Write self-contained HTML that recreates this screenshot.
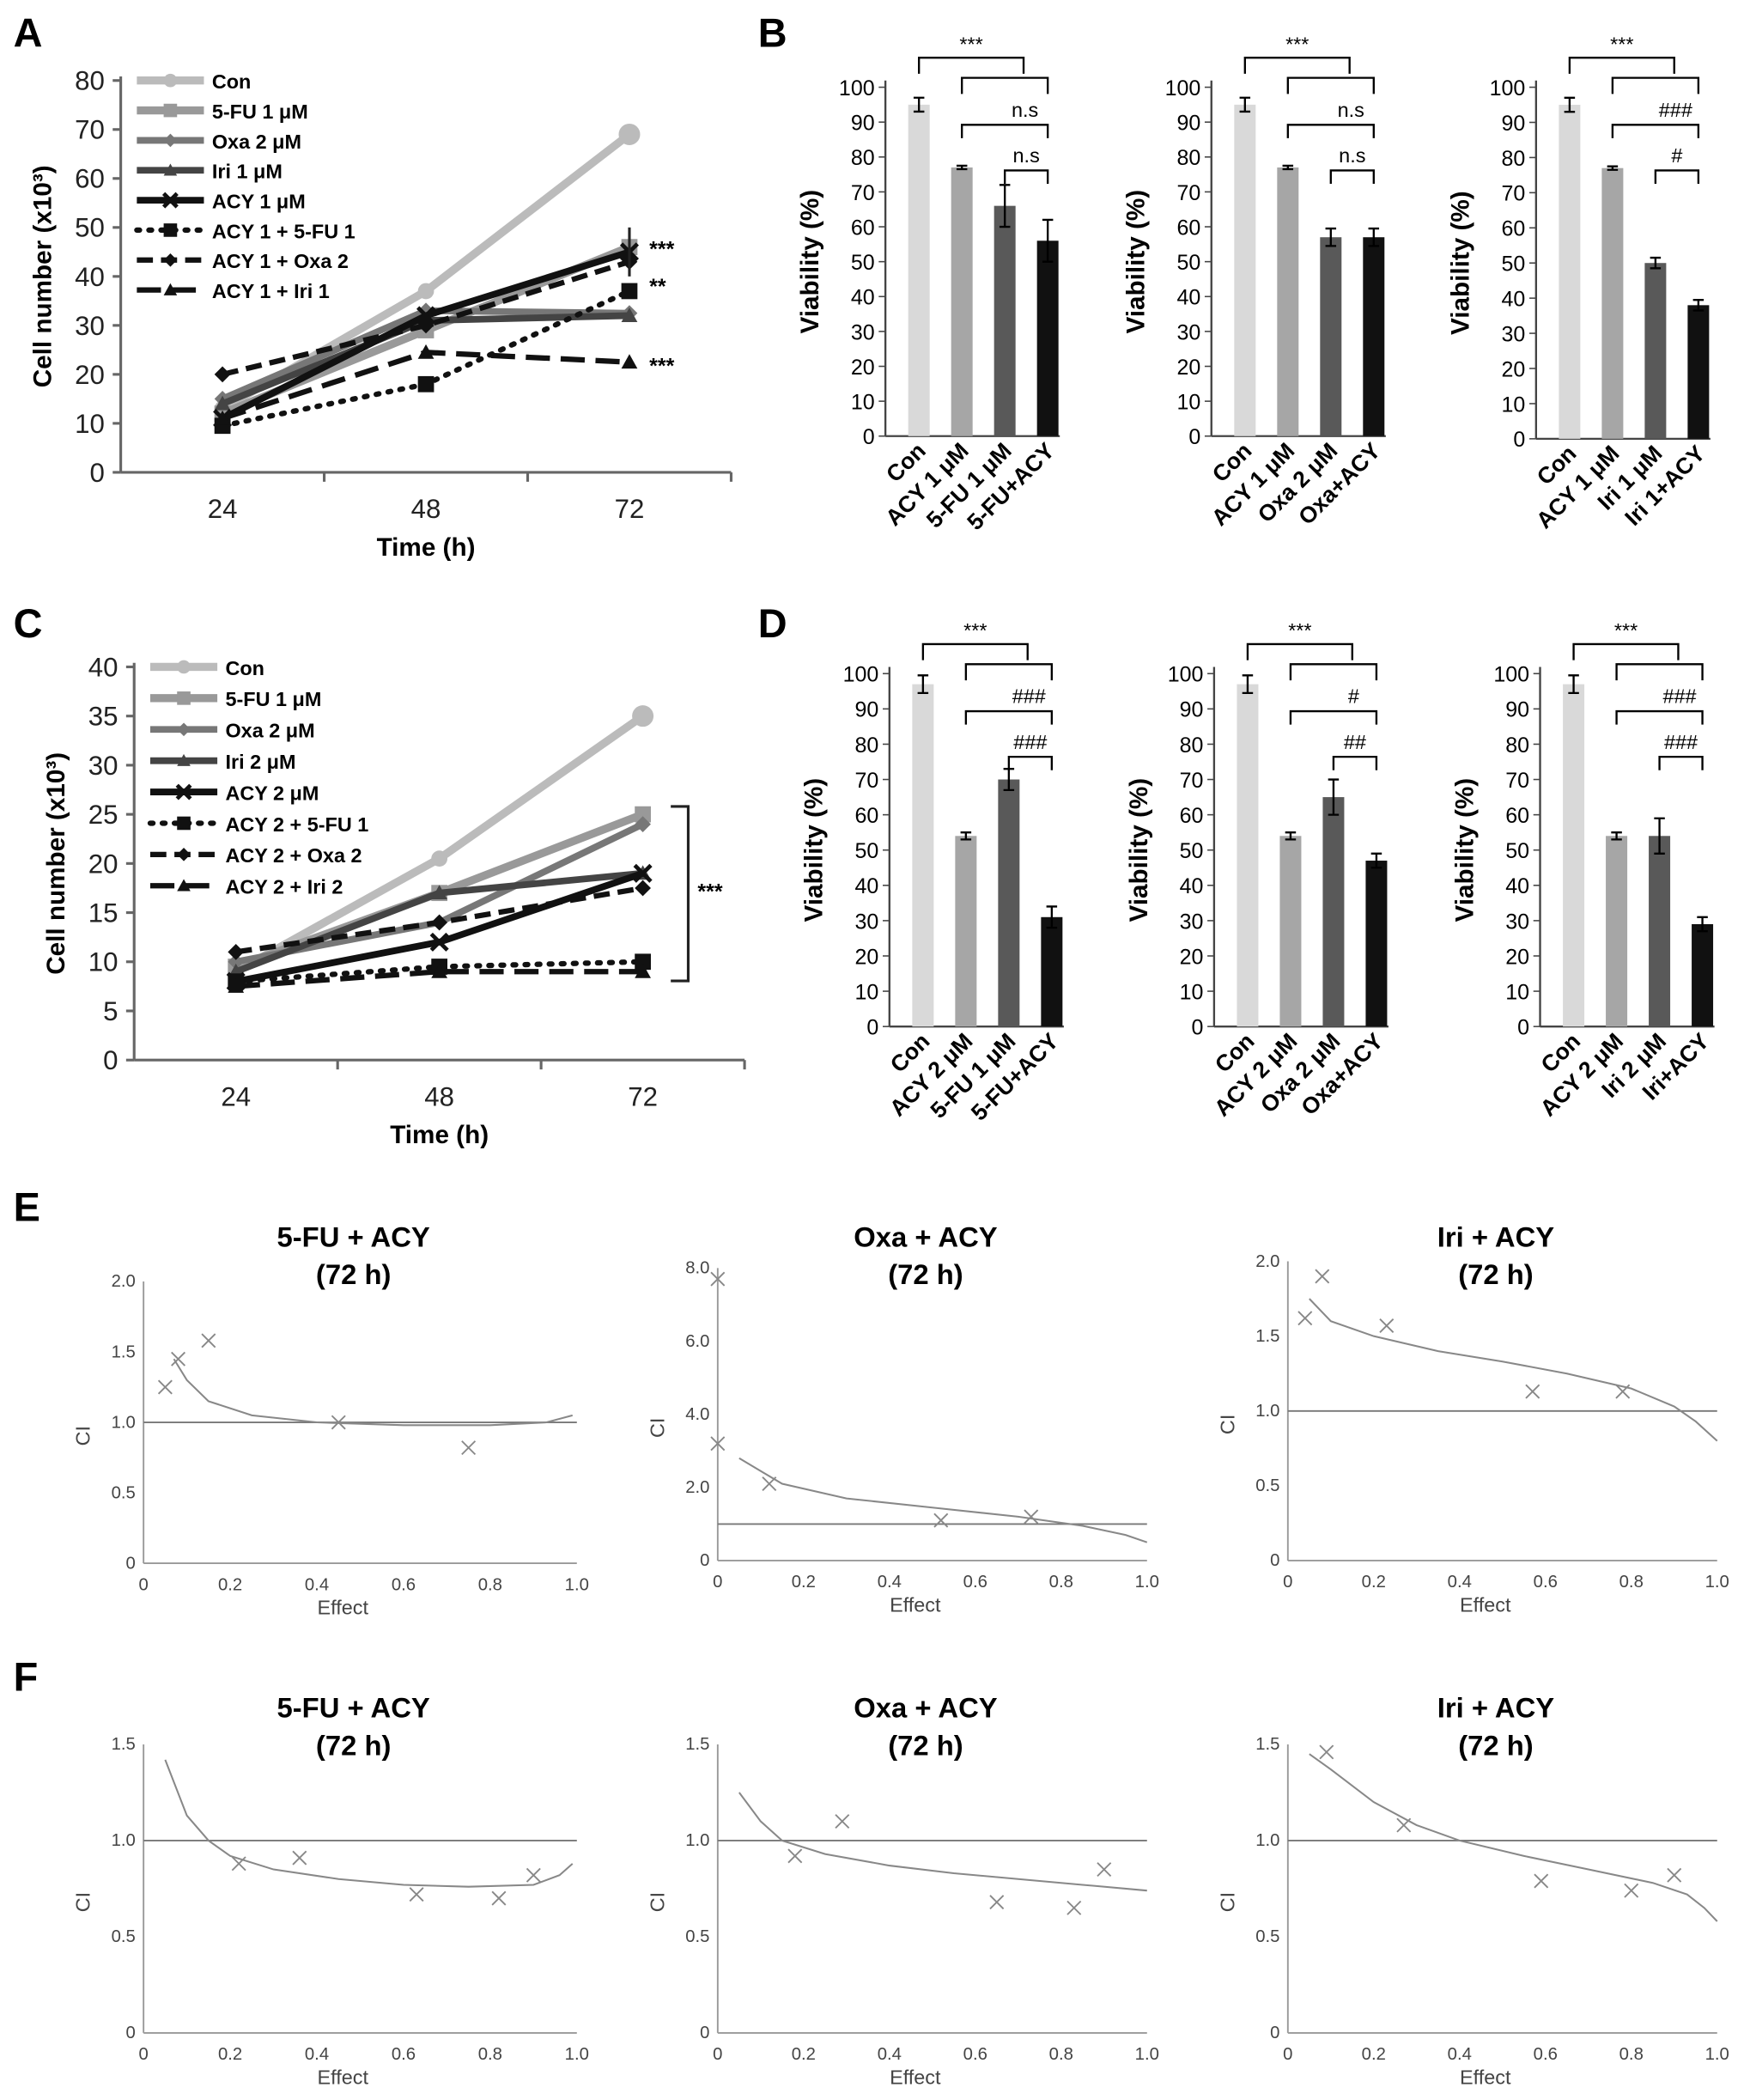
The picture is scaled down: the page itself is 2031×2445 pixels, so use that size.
<!DOCTYPE html>
<html><head><meta charset="utf-8"><style>
html,body{margin:0;padding:0;background:#fff}
svg{display:block;font-family:"Liberation Sans",Arial,sans-serif}
</style></head><body>
<svg id="fig" width="2031" height="2445" viewBox="0 0 1300 1565" xmlns="http://www.w3.org/2000/svg"></svg>
<script>
// ---- Data: line charts ----
const timeLabels=["24","48","72"];
const seriesNamesA=["Con","5-FU 1 μM","Oxa 2 μM","Iri 1 μM","ACY 1 μM","ACY 1 + 5-FU 1","ACY 1 + Oxa 2","ACY 1 + Iri 1"];
const conA=[13,37,69], fuA=[12,29,46], oxaA=[15,33,32.5], iriA=[14,31,32], acyA=[11,32,45], acyFuA=[9.5,18,37], acyOxaA=[20,30,43], acyIriA=[11,24.5,22.5];
const seriesNamesC=["Con","5-FU 1 μM","Oxa 2 μM","Iri 2 μM","ACY 2 μM","ACY 2 + 5-FU 1","ACY 2 + Oxa 2","ACY 2 + Iri 2"];
const conC=[9,20.5,35], fuC=[9.5,17,25], oxaC=[10,14,24], iriC=[9,17,19], acyC=[8,12,19], acyFuC=[8,9.5,10], acyOxaC=[11,14,17.5], acyIriC=[7.5,9,9];
const ticksA=[0,10,20,30,40,50,60,70,80];
const ticksC=[0,5,10,15,20,25,30,35,40];
// ---- Data: bar charts ----
const barColors=["#d9d9d9","#a6a6a6","#595959","#111"];
const catsB1=["Con","ACY 1 μM","5-FU 1 μM","5-FU+ACY"], valsB1=[95,77,66,56], errB1=[2,0.5,6,6];
const catsB2=["Con","ACY 1 μM","Oxa 2 μM","Oxa+ACY"], valsB2=[95,77,57,57], errB2=[2,0.5,2.5,2.5];
const catsB3=["Con","ACY 1 μM","Iri 1 μM","Iri 1+ACY"], valsB3=[95,77,50,38], errB3=[2,0.5,1.5,1.5];
const catsD1=["Con","ACY 2 μM","5-FU 1 μM","5-FU+ACY"], valsD1=[97,54,70,31], errD1=[2.5,1,3,3];
const catsD2=["Con","ACY 2 μM","Oxa 2 μM","Oxa+ACY"], valsD2=[97,54,65,47], errD2=[2.5,1,5,2];
const catsD3=["Con","ACY 2 μM","Iri 2 μM","Iri+ACY"], valsD3=[97,54,54,29], errD3=[2.5,1,5,2];
const barTicks=[0,10,20,30,40,50,60,70,80,90,100];
// ---- Data: CI plots ----
const effTicks=[0,0.2,0.4,0.6,0.8,1.0];
const e1x=[0.05,0.08,0.15,0.45,0.75], e1y=[1.25,1.45,1.58,1.0,0.82];
const e1cx=[0.07,0.1,0.15,0.25,0.4,0.6,0.8,0.93,0.99], e1cy=[1.45,1.3,1.15,1.05,1.0,0.98,0.98,1.0,1.05];
const e2x=[0.0,0.0,0.12,0.52,0.73], e2y=[7.7,3.2,2.1,1.1,1.2];
const e2cx=[0.05,0.15,0.3,0.5,0.7,0.85,0.95,1.0], e2cy=[2.8,2.1,1.7,1.45,1.2,0.95,0.7,0.5];
const e3x=[0.04,0.08,0.23,0.57,0.78], e3y=[1.62,1.9,1.57,1.13,1.13];
const e3cx=[0.05,0.1,0.2,0.35,0.5,0.65,0.8,0.9,0.95,1.0], e3cy=[1.75,1.6,1.5,1.4,1.33,1.25,1.15,1.03,0.93,0.8];
const f1x=[0.22,0.36,0.63,0.82,0.9], f1y=[0.88,0.91,0.72,0.7,0.82];
const f1cx=[0.05,0.1,0.15,0.2,0.3,0.45,0.6,0.75,0.9,0.96,0.99], f1cy=[1.42,1.13,1.0,0.92,0.85,0.8,0.77,0.76,0.77,0.82,0.88];
const f2x=[0.18,0.29,0.65,0.83,0.9], f2y=[0.92,1.1,0.68,0.65,0.85];
const f2cx=[0.05,0.1,0.15,0.25,0.4,0.55,0.7,0.85,1.0], f2cy=[1.25,1.1,1.0,0.93,0.87,0.83,0.8,0.77,0.74];
const f3x=[0.09,0.27,0.59,0.8,0.9], f3y=[1.46,1.08,0.79,0.74,0.82];
const f3cx=[0.05,0.1,0.2,0.3,0.4,0.55,0.7,0.85,0.93,0.97,1.0], f3cy=[1.45,1.37,1.2,1.08,1.0,0.92,0.85,0.78,0.72,0.65,0.58];

const svg=document.getElementById('fig');const NS="http://www.w3.org/2000/svg";
function el(tag,attrs,parent){const e=document.createElementNS(NS,tag);for(const k in attrs)e.setAttribute(k,attrs[k]);(parent||svg).appendChild(e);return e;}
function txt(x,y,s,attrs,parent){const t=el('text',Object.assign({x:x,y:y},attrs||{}),parent);t.textContent=s;return t;}
function grp(name){const g=el('g',{});return g;}

[["A",10,35],["B",565,35],["C",10,475],["D",565,475],["E",10,910],["F",10,1260]].forEach(p=>{const t=txt(p[1],p[2],p[0],{'font-size':30,'font-weight':'bold'});});

const styles=[{c:"#bbb",w:6,d:"",m:"circle"},{c:"#999",w:6,d:"",m:"square"},{c:"#777",w:5,d:"",m:"diamond"},{c:"#444",w:5,d:"",m:"tri"},{c:"#111",w:5,d:"",m:"x"},{c:"#111",w:4,d:"2 7",m:"square"},{c:"#111",w:4,d:"12 6",m:"diamond"},{c:"#111",w:4,d:"18 8",m:"tri"}];
function marker(g,m,x,y,c,s){
 if(m=="circle")el('circle',{cx:x,cy:y,r:s,fill:c},g);
 else if(m=="square")el('rect',{x:x-s,y:y-s,width:2*s,height:2*s,fill:c},g);
 else if(m=="diamond")el('polygon',{points:`${x},${y-s} ${x+s},${y} ${x},${y+s} ${x-s},${y}`,fill:c},g);
 else if(m=="tri")el('polygon',{points:`${x},${y-s} ${x+s},${y+s*0.8} ${x-s},${y+s*0.8}`,fill:c},g);
 else {el('path',{d:`M${x-s} ${y-s}L${x+s} ${y+s}M${x+s} ${y-s}L${x-s} ${y+s}`,stroke:c,'stroke-width':3},g);}
}
function lineChart(name,x0,x1,y0,yTop,ymax,ticks,xs,series,names,legY,legStep,stars){
 const g=grp(name);
 const Y=v=>y0-(v/ymax)*(y0-yTop);
 el('line',{x1:x0,y1:yTop-3,x2:x0,y2:y0,stroke:'#666','stroke-width':2},g);
 el('line',{x1:x0,y1:y0,x2:x1,y2:y0,stroke:'#666','stroke-width':2},g);
 ticks.forEach(t=>{el('line',{x1:x0-6,y1:Y(t),x2:x0,y2:Y(t),stroke:'#666','stroke-width':2},g);txt(x0-12,Y(t)+7,String(t),{'font-size':20,'text-anchor':'end',fill:'#222'},g);});
 const step=(x1-x0)/3;
 for(let i=1;i<=3;i++)el('line',{x1:x0+step*i,y1:y0,x2:x0+step*i,y2:y0+7,stroke:'#666','stroke-width':2},g);
 xs.forEach((l,i)=>txt(x0+step*(i+0.5),y0+34,l,{'font-size':20,'text-anchor':'middle',fill:'#222'},g));
 txt((x0+x1)/2,y0+62,"Time (h)",{'font-size':19,'font-weight':'bold','text-anchor':'middle'},g);
 txt(0,0,"Cell number (x10³)",{'font-size':19,'font-weight':'bold','text-anchor':'middle',transform:`translate(${x0-52},${(y0+yTop)/2}) rotate(-90)`},g);
 const X=i=>x0+step*(i+0.5);
 series.forEach((s,k)=>{const st=styles[k];const sg=el('g',{},g);
  el('polyline',{points:s.map((v,i)=>X(i)+','+Y(v)).join(' '),fill:'none',stroke:st.c,'stroke-width':st.w,'stroke-dasharray':st.d,'stroke-linecap':st.d=="2 7"?'round':'butt'},sg);
  s.forEach((v,i)=>marker(sg,st.m,X(i),Y(v),st.c,k==0&&i==2?8:6));
  const ly=legY+k*legStep, lx=x0+12;
  const lg=el('g',{},g);
  el('line',{x1:lx,y1:ly,x2:lx+50,y2:ly,stroke:st.c,'stroke-width':st.w,'stroke-dasharray':st.d,'stroke-linecap':st.d=="2 7"?'round':'butt'},lg);
  marker(lg,st.m,lx+25,ly,st.c,5);
  txt(lx+56,ly+6,names[k],{'font-size':15,'font-weight':'bold'},lg);
 });
 stars.forEach(s=>txt(s[0],s[1],s[2],{'font-size':16,'font-weight':'bold'},g));
 return {X,Y,g};
}
const A=lineChart('line-chart-a',90,545,352,60,80,ticksA,timeLabels,[conA,fuA,oxaA,iriA,acyA,acyFuA,acyOxaA,acyIriA],seriesNamesA,60,22.3,[[484,191,"***"],[484,219,"**"],[484,278,"***"]]);
el('line',{x1:A.X(2),y1:A.Y(50),x2:A.X(2),y2:A.Y(40),stroke:'#222','stroke-width':2},A.g);
const C=lineChart('line-chart-c',100,555,790,497,40,ticksC,timeLabels,[conC,fuC,oxaC,iriC,acyC,acyFuC,acyOxaC,acyIriC],seriesNamesC,497,23.3,[[520,670,"***"]]);
el('polyline',{points:"500,601 513,601 513,731 500,731",fill:'none',stroke:'#222','stroke-width':2},C.g);

function barChart(name,ax,y0,yTop,cats,vals,errs){
 const g=grp(name);const Y=v=>y0-(v/100)*(y0-yTop);
 el('line',{x1:ax,y1:yTop-5,x2:ax,y2:y0,stroke:'#444','stroke-width':1.5},g);
 el('line',{x1:ax,y1:y0,x2:ax+130,y2:y0,stroke:'#444','stroke-width':1.5},g);
 barTicks.forEach(t=>{el('line',{x1:ax-5,y1:Y(t),x2:ax,y2:Y(t),stroke:'#444'},g);txt(ax-8,Y(t)+6,String(t),{'font-size':16,'text-anchor':'end'},g);});
 txt(0,0,"Viability (%)",{'font-size':19,'font-weight':'bold','text-anchor':'middle',transform:`translate(${ax-50},${(y0+yTop)/2}) rotate(-90)`},g);
 const X=i=>ax+25+32*i;
 vals.forEach((v,i)=>{const b=el('rect',{x:X(i)-8,y:Y(v),width:16,height:y0-Y(v),fill:barColors[i]},g);
  const e=errs[i];el('path',{d:`M${X(i)} ${Y(v+e)}V${Y(v-e)}M${X(i)-4} ${Y(v+e)}H${X(i)+4}M${X(i)-4} ${Y(v-e)}H${X(i)+4}`,stroke:'#000','stroke-width':1.5},g);
  txt(0,0,cats[i],{'font-size':17,'font-weight':'bold','text-anchor':'end',transform:`translate(${X(i)+6},${y0+12}) rotate(-45)`},g);});
 return g;
}
function panel(name,ax,y0,yTop,cats,vals,errs,labs){
 const g=barChart(name,ax,y0,yTop,cats,vals,errs);
 const X=i=>ax+25+32*i;
 el('path',{d:`M${X(0)} ${yTop-10}V${yTop-22}H${X(3)-18}V${yTop-10}`,fill:'none',stroke:'#000','stroke-width':1.5},g);
 el('path',{d:`M${X(1)} ${yTop+5}V${yTop-7}H${X(3)}V${yTop+5}`,fill:'none',stroke:'#000','stroke-width':1.5},g);
 txt((X(0)+X(3)-18)/2,yTop-27,labs[0],{'font-size':15,'text-anchor':'middle'},g);
 el('path',{d:`M${X(1)} ${yTop+38}V${yTop+28}H${X(3)}V${yTop+38}`,fill:'none',stroke:'#000','stroke-width':1.5},g);
 txt((X(1)+X(3))/2+15,yTop+22,labs[1],{'font-size':15,'text-anchor':'middle'},g);
 el('path',{d:`M${X(2)} ${yTop+72}V${yTop+62}H${X(3)}V${yTop+72}`,fill:'none',stroke:'#000','stroke-width':1.5},g);
 txt((X(2)+X(3))/2,yTop+56,labs[2],{'font-size':15,'text-anchor':'middle'},g);
}
panel('bar-chart-b1',660,325,65,catsB1,valsB1,errB1,["***","n.s","n.s"]);
panel('bar-chart-b2',903,325,65,catsB2,valsB2,errB2,["***","n.s","n.s"]);
panel('bar-chart-b3',1145,327,65,catsB3,valsB3,errB3,["***","###","#"]);
panel('bar-chart-d1',663,765,502,catsD1,valsD1,errD1,["***","###","###"]);
panel('bar-chart-d2',905,765,502,catsD2,valsD2,errD2,["***","#","##"]);
panel('bar-chart-d3',1148,765,502,catsD3,valsD3,errD3,["***","###","###"]);

function ciPlot(name,x0,x1,y0,yTop,ymax,yt,title,px,py,cx,cy,titleY){
 const g=grp(name);const X=v=>x0+v*(x1-x0);const Y=v=>y0-(v/ymax)*(y0-yTop);
 el('line',{x1:x0,y1:yTop,x2:x0,y2:y0,stroke:'#999','stroke-width':1.2},g);
 el('line',{x1:x0,y1:y0,x2:x1,y2:y0,stroke:'#999','stroke-width':1.2},g);
 yt.forEach(t=>txt(x0-6,Y(t)+4,t.toFixed(1).replace(/^0\.0$/,'0'),{'font-size':13,'text-anchor':'end',fill:'#444'},g));
 effTicks.forEach(t=>txt(X(t),y0+20,t==0?'0':t.toFixed(1),{'font-size':13,'text-anchor':'middle',fill:'#444'},g));
 txt(X(0.46),y0+38,"Effect",{'font-size':15,fill:'#444','text-anchor':'middle'},g);
 txt(0,0,"CI",{'font-size':15,fill:'#444','text-anchor':'middle',transform:`translate(${x0-40},${(y0+yTop)/2+10}) rotate(-90)`},g);
 txt((x0+x1)/2-5,titleY,title,{'font-size':21,'font-weight':'bold','text-anchor':'middle'},g);
 txt((x0+x1)/2-5,titleY+28,"(72 h)",{'font-size':21,'font-weight':'bold','text-anchor':'middle'},g);
 el('line',{x1:x0,y1:Y(1),x2:x1,y2:Y(1),stroke:'#777','stroke-width':1.2},g);
 el('polyline',{points:cx.map((v,i)=>X(v)+','+Y(cy[i])).join(' '),fill:'none',stroke:'#888','stroke-width':1.3},g);
 px.forEach((v,i)=>{const x=X(v),y=Y(py[i]);el('path',{d:`M${x-5} ${y-5}L${x+5} ${y+5}M${x+5} ${y-5}L${x-5} ${y+5}`,stroke:'#888','stroke-width':1.2},g);});
}
ciPlot('ci-plot-e1',107,430,1165,955,2,[0,0.5,1,1.5,2],"5-FU + ACY",e1x,e1y,e1cx,e1cy,929);
ciPlot('ci-plot-e2',535,855,1163,945,8,[0,2,4,6,8],"Oxa + ACY",e2x,e2y,e2cx,e2cy,929);
ciPlot('ci-plot-e3',960,1280,1163,940,2,[0,0.5,1,1.5,2],"Iri + ACY",e3x,e3y,e3cx,e3cy,929);
ciPlot('ci-plot-f1',107,430,1515,1300,1.5,[0,0.5,1,1.5],"5-FU + ACY",f1x,f1y,f1cx,f1cy,1280);
ciPlot('ci-plot-f2',535,855,1515,1300,1.5,[0,0.5,1,1.5],"Oxa + ACY",f2x,f2y,f2cx,f2cy,1280);
ciPlot('ci-plot-f3',960,1280,1515,1300,1.5,[0,0.5,1,1.5],"Iri + ACY",f3x,f3y,f3cx,f3cy,1280);
</script>
</body></html>
